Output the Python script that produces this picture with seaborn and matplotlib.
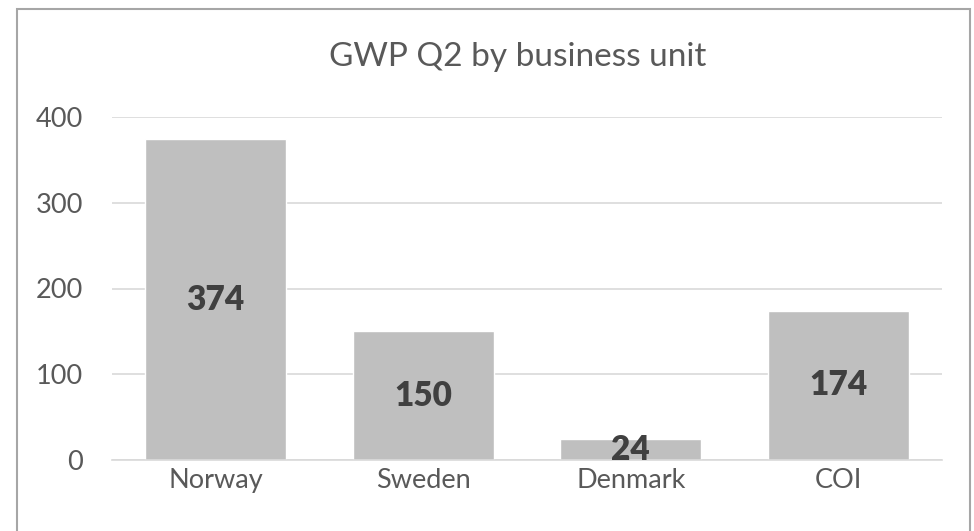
import matplotlib
matplotlib.use("Agg")
import matplotlib.pyplot as plt
import seaborn as sns
import pandas as pd
from matplotlib.patches import Rectangle

# data
units = ["Norway", "Sweden", "Denmark", "COI"]
gwp_q2 = [374, 150, 24, 174]
y_ticks = [0, 100, 200, 300, 400]

sns.set_theme(style="white")
plt.rcParams["font.family"] = ["Lato", "DejaVu Sans"]

TEXT = "#595959"
LABEL = "#404040"
BAR = "#bfbfbf"
GRID = "#d9d9d9"

W, H = 974, 531
fig = plt.figure(figsize=(W / 100, H / 100), dpi=100)
fig.patch.set_facecolor("white")

# chart-area frame (Excel style)
fig.patches.append(Rectangle((16.5 / W, -0.05), (970 - 16.5) / W, 1.05 - 8.5 / H,
                             transform=fig.transFigure, fill=False,
                             edgecolor="#a6a6a6", linewidth=1.5))

ax = fig.add_axes([112 / W, 1 - 460 / H, (942 - 112) / W, (460 - 117) / H])

df = pd.DataFrame({"unit": units, "gwp": gwp_q2})
sns.barplot(data=df, x="unit", y="gwp", color=BAR, width=0.68,
            saturation=1, ax=ax, zorder=2)

for c in ax.containers:
    ax.bar_label(c, labels=[str(v) for v in gwp_q2], label_type="center",
                 fontsize=24, fontweight="heavy", color=LABEL)

ax.set_ylim(0, 400)
ax.set_xlim(-0.5, 3.5)
ax.set_yticks(y_ticks)
ax.yaxis.grid(True, color=GRID, linewidth=1.2, zorder=0)
ax.set_axisbelow(True)
for s in ["top", "right", "left"]:
    ax.spines[s].set_visible(False)
ax.spines["bottom"].set_color(GRID)
ax.spines["bottom"].set_linewidth(1.2)
ax.tick_params(axis="both", length=0, labelsize=19.5, colors=TEXT)
ax.tick_params(axis="y", pad=21)
ax.tick_params(axis="x", pad=6)
ax.set_xlabel("")
ax.set_ylabel("")

fig.text(518 / W, 1 - 57 / H, "GWP Q2 by business unit", ha="center", va="center",
         fontsize=24, color=TEXT)

fig.savefig("out.png", dpi=100)
